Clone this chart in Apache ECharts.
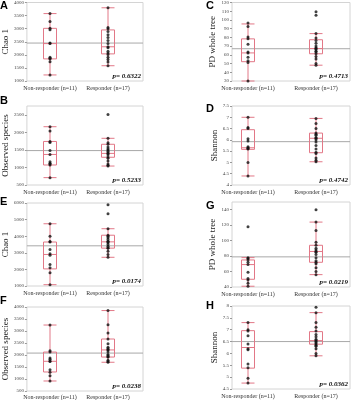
<!DOCTYPE html>
<html>
<head>
<meta charset="utf-8">
<script src="https://cdn.jsdelivr.net/npm/echarts@6/dist/echarts.min.js"></script>
<style>
  html, body { margin: 0; padding: 0; background: #fff; }
  #chart { width: 354px; height: 400px; }
</style>
</head>
<body>
<div id="chart"></div>
<script>
var categories = ['Non-responder (n=11)', 'Responder (n=17)'];

// box stats: [low whisker, Q1, median, Q3, high whisker]
// A - Chao 1
var aBoxes = [[1230, 1840, 2420, 3000, 3560], [1580, 2030, 2300, 2940, 3780]];
var aNonResp = [3560, 3260, 3000, 2950, 2440, 2420, 1900, 1860, 1840, 1730, 1230];
var aResp = [3780, 3030, 2980, 2880, 2760, 2650, 2540, 2420, 2300, 2260, 2130, 2060, 2010, 1900, 1820, 1720, 1580];
var aMean = 2450;

// B - Observed species
var bBoxes = [[710, 1070, 1370, 1740, 2160], [1040, 1290, 1400, 1660, 1830]];
var bNonResp = [2160, 2040, 1740, 1710, 1480, 1370, 1160, 1120, 1100, 1070, 710];
var bResp = [2510, 1830, 1700, 1660, 1580, 1530, 1500, 1460, 1420, 1400, 1360, 1300, 1260, 1180, 1100, 1060, 1040];
var bMean = 1480;

// C - PD whole tree
var cBoxes = [[30, 52, 62, 78, 95], [48, 61, 67, 77, 84]];
var cNonResp = [96, 92, 80, 78, 72, 63, 62, 57, 53, 51, 30];
var cResp = [109, 105, 84, 79, 76, 73, 70, 68, 67, 66, 64, 63, 61, 58, 55, 50, 48];
var cMean = 67;

// D - Shannon
var dBoxes = [[4.4, 5.58, 5.65, 6.45, 7.0], [5.03, 5.43, 6.07, 6.3, 6.95]];
var dNonResp = [7.0, 6.55, 6.5, 6.05, 5.95, 5.7, 5.65, 5.62, 5.6, 5.0, 4.4];
var dResp = [6.95, 6.72, 6.5, 6.3, 6.25, 6.2, 6.1, 6.07, 6.0, 5.9, 5.75, 5.6, 5.45, 5.4, 5.2, 5.1, 5.03];
var dMean = 5.92;

// E - Chao 1
var eBoxes = [[1080, 2030, 2900, 3650, 4750], [2730, 3280, 3660, 4060, 4450]];
var eNonResp = [4750, 4000, 3680, 3650, 3200, 2950, 2850, 2300, 2100, 1800, 1080];
var eResp = [5900, 5350, 4450, 4060, 4000, 3900, 3800, 3700, 3660, 3600, 3500, 3400, 3300, 3280, 3100, 2900, 2730];
var eMean = 3420;

// F - Observed species
var fBoxes = [[880, 1260, 1710, 2100, 3240], [1670, 1890, 2190, 2650, 3850]];
var fNonResp = [3240, 2150, 2100, 1850, 1800, 1720, 1700, 1350, 1250, 1100, 880];
var fResp = [3850, 3250, 2900, 2650, 2450, 2300, 2250, 2200, 2190, 2100, 2000, 1950, 1900, 1890, 1750, 1700, 1670];
var fMean = 2080;

// G - PD whole tree
var gBoxes = [[41, 50, 69, 75, 78], [56, 72, 86, 94, 124]];
var gNonResp = [118, 78, 77, 75, 72, 69, 59, 51, 49, 45, 41];
var gResp = [140, 124, 113, 98, 94, 90, 88, 86, 85, 82, 78, 74, 72, 70, 65, 60, 56];
var gMean = 79;

// H - Shannon
var hBoxes = [[4.75, 5.38, 6.25, 6.96, 7.3], [5.9, 6.39, 6.54, 6.92, 7.72]];
var hNonResp = [7.3, 7.0, 6.95, 6.75, 6.4, 6.2, 6.15, 5.55, 5.4, 4.95, 4.75];
var hResp = [7.95, 7.72, 7.3, 7.1, 6.95, 6.8, 6.7, 6.6, 6.55, 6.5, 6.45, 6.4, 6.35, 6.3, 6.2, 6.0, 5.9];
var hMean = 6.5;

var pValues = ['p= 0.6322', 'p= 0.5233', 'p= 0.4713', 'p= 0.4742', 'p= 0.0174', 'p= 0.0238', 'p= 0.0219', 'p= 0.0362'];

var panels = [
    {letter: 'A', name: 'Chao 1', boxes: aBoxes, nr: aNonResp, r: aResp, mean: aMean, p: pValues[0], min: 1000, max: 4000, interval: 500, col: 0, top: 2, bottom: 81, ly: 0},
    {letter: 'B', name: 'Observed species', boxes: bBoxes, nr: bNonResp, r: bResp, mean: bMean, p: pValues[1], min: 500, max: 2750, interval: 500, col: 0, top: 106, bottom: 185, ly: 95},
    {letter: 'C', name: 'PD whole tree', boxes: cBoxes, nr: cNonResp, r: cResp, mean: cMean, p: pValues[2], min: 30, max: 120, interval: 10, col: 1, top: 2, bottom: 81, ly: 0},
    {letter: 'D', name: 'Shannon', boxes: dBoxes, nr: dNonResp, r: dResp, mean: dMean, p: pValues[3], min: 4, max: 7.5, interval: 0.5, col: 1, top: 106, bottom: 185, ly: 103},
    {letter: 'E', name: 'Chao 1', boxes: eBoxes, nr: eNonResp, r: eResp, mean: eMean, p: pValues[4], min: 1000, max: 6000, interval: 1000, col: 0, top: 203, bottom: 286, ly: 196},
    {letter: 'F', name: 'Observed species', boxes: fBoxes, nr: fNonResp, r: fResp, mean: fMean, p: pValues[5], min: 500, max: 4000, interval: 500, col: 0, top: 307, bottom: 391, ly: 295},
    {letter: 'G', name: 'PD whole tree', boxes: gBoxes, nr: gNonResp, r: gResp, mean: gMean, p: pValues[6], min: 40, max: 150, interval: 20, col: 1, top: 202, bottom: 287, ly: 200},
    {letter: 'H', name: 'Shannon', boxes: hBoxes, nr: hNonResp, r: hResp, mean: hMean, p: pValues[7], min: 4.5, max: 8, interval: 0.5, col: 1, top: 306, bottom: 389, ly: 300}
];

// frame = bordered plot area, data = where the boxes sit
var columns = [
    {frameLeft: 25, frameRight: 143, dataLeft: 21, dataRight: 137, nameGap: 14, letterX: 0},
    {frameLeft: 232, frameRight: 350, dataLeft: 214, dataRight: 350, nameGap: 10, letterX: 206}
];

var serif = 'Liberation Serif';
var boxColor = '#e27887';

var chart = echarts.init(document.getElementById('chart'));

var grids = [], xAxes = [], yAxes = [], series = [], graphics = [];

for (var i = 0; i < panels.length; i++) {
    var p = panels[i];
    var c = columns[p.col];
    var h = p.bottom - p.top;
    var fi = 2 * i, di = 2 * i + 1;

    grids.push({left: c.frameLeft, top: p.top, width: c.frameRight - c.frameLeft, height: h,
        show: true, borderColor: '#d4d4d4', borderWidth: 1});
    grids.push({left: c.dataLeft, top: p.top, width: c.dataRight - c.dataLeft, height: h});

    xAxes.push({gridIndex: fi, type: 'value', min: 0, max: 1, show: false});
    xAxes.push({gridIndex: di, type: 'category', data: categories,
        axisLine: {show: false}, axisTick: {show: false}, splitLine: {show: false},
        axisLabel: {fontSize: 6, fontFamily: serif, color: '#333', margin: 4, interval: 0}});

    yAxes.push({gridIndex: fi, type: 'value', min: p.min, max: p.max, interval: p.interval,
        name: p.name, nameLocation: 'middle', nameGap: c.nameGap,
        nameTextStyle: {fontSize: 9, fontFamily: serif, color: '#222'},
        axisLine: {show: false}, splitLine: {show: false},
        axisTick: {show: true, length: 2, lineStyle: {color: '#999'}},
        axisLabel: {fontSize: 5, fontFamily: serif, color: '#444', margin: 3,
            showMaxLabel: (p.max - p.min) % p.interval === 0,
            formatter: function (v) { return String(v); }}});
    yAxes.push({gridIndex: di, type: 'value', min: p.min, max: p.max, show: false});

    // grand mean line
    series.push({type: 'line', xAxisIndex: fi, yAxisIndex: fi, data: [[0, p.mean], [1, p.mean]],
        symbol: 'none', silent: true, lineStyle: {color: '#a8a8a8', width: 1}, z: 1});

    series.push({type: 'boxplot', xAxisIndex: di, yAxisIndex: di, data: p.boxes, boxWidth: [13, 13],
        silent: true, z: 2,
        itemStyle: {color: 'rgba(255,255,255,0)', borderColor: boxColor, borderWidth: 1}});

    var pts = [];
    for (var j = 0; j < p.nr.length; j++) pts.push([0, p.nr[j]]);
    for (var k = 0; k < p.r.length; k++) pts.push([1, p.r[k]]);
    series.push({type: 'scatter', xAxisIndex: di, yAxisIndex: di, data: pts, symbolSize: 3,
        silent: true, z: 3, itemStyle: {color: '#111'}});

    graphics.push({type: 'text', x: c.letterX, y: p.ly,
        style: {text: p.letter, fontSize: 11, fontWeight: 'bold', fontFamily: 'Liberation Sans', fill: '#000'}});
    graphics.push({type: 'text', x: c.frameRight - 2, y: p.bottom - 1,
        style: {text: p.p, fontSize: 7, fontWeight: 'bold', fontStyle: 'italic', fontFamily: serif,
            fill: '#111', align: 'right', verticalAlign: 'bottom'}});
}

option = {
    animation: false,
    grid: grids,
    xAxis: xAxes,
    yAxis: yAxes,
    series: series,
    graphic: graphics
};
chart.setOption(option);
</script>
</body>
</html>
